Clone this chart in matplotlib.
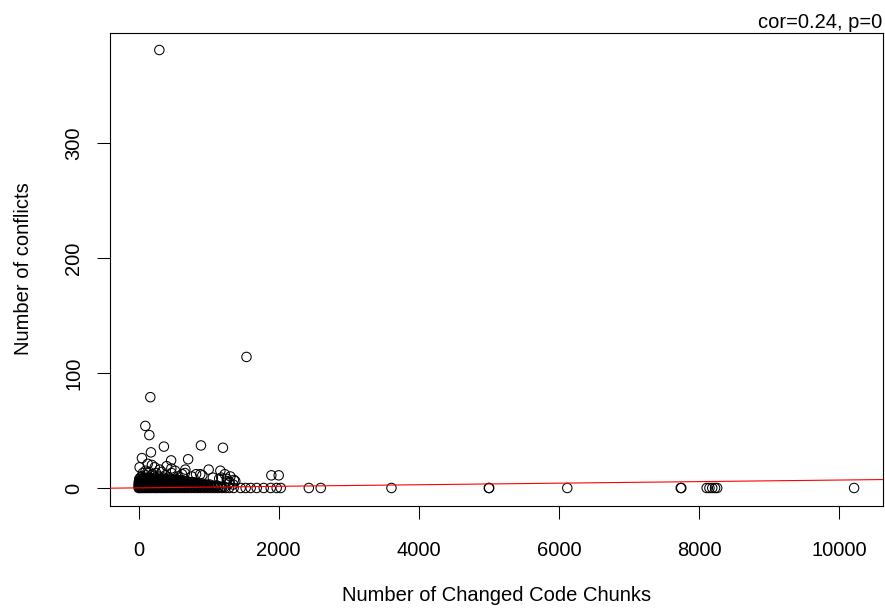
import numpy as np
import matplotlib
matplotlib.use('Agg')
import matplotlib.pyplot as plt

plt.rcParams['font.family'] = ['Liberation Sans', 'DejaVu Sans']

# changed code chunks per merge, grouped by number of conflicts (dense part near the origin)
chunks_c0 = [0, 15, 40, 70, 95, 130, 160, 190, 230, 260, 300, 335, 370, 410, 450, 490, 530, 575,
             620, 660, 705, 750, 800, 845, 890, 940, 990, 1040, 1090, 1140, 1190, 1240, 1290,
             1357, 1457, 1528, 1600, 1686, 1786, 1886, 1971, 2029,
             2430, 2600, 3610, 5000, 5005, 6120, 7740, 7748, 8110, 8150, 8190, 8230, 8260, 10215]
chunks_c1 = [5, 30, 60, 90, 120, 155, 185, 220, 255, 290, 330, 365, 405, 445, 480, 525, 565, 610,
             655, 700, 745, 790, 840, 885, 935, 985, 1035, 1085, 1135, 1180, 1225]
chunks_c2 = [0, 25, 55, 85, 115, 150, 180, 215, 250, 285, 325, 360, 400, 440, 480, 520, 560, 605,
             650, 695, 740, 790, 835, 880, 930, 980, 1030, 1080, 1120]
chunks_c3 = [10, 35, 65, 100, 135, 170, 205, 240, 280, 320, 355, 395, 435, 475, 515, 560, 600,
             645, 690, 735, 780, 830, 875, 925, 970, 1015, 1350]
chunks_c4 = [0, 30, 60, 95, 130, 165, 200, 240, 280, 315, 355, 395, 440, 480, 520, 565, 610, 655,
             700, 750, 800, 850, 905, 1290]
chunks_c5 = [15, 45, 80, 115, 150, 190, 225, 265, 305, 345, 385, 430, 470, 515, 560, 605, 650,
             700, 745, 790, 1300]
chunks_c6 = [5, 40, 75, 110, 150, 185, 225, 265, 310, 350, 395, 440, 485, 530, 580, 630, 690,
             1260, 1380]
chunks_c7 = [20, 55, 95, 135, 175, 220, 260, 305, 350, 400, 450, 500, 560, 620, 1360]
chunks_c8 = [10, 50, 90, 135, 180, 225, 275, 330, 385, 440, 520, 1150, 1260]
chunks_c9 = [30, 75, 120, 170, 230, 290, 360, 430, 1060, 1180]

# sparser points above the dense block and the outliers
other_chunks = [40, 110, 200, 290, 380, 560, 760, 910, 1310, 1895, 2000, 60, 150, 250, 330, 470,
                620, 660, 820, 880, 1230, 100, 300, 14, 190, 467, 667, 1000, 1167,
                230, 520, 130, 400,
                47, 464, 707, 176, 361, 890, 1204, 153, 96, 167, 1540, 296]
other_conflicts = [10, 11, 12, 10, 11, 10, 10, 11, 10, 11, 11, 13, 14, 13, 14, 13,
                   12, 13, 12, 12, 12, 15, 16, 18, 20, 17, 16, 16, 15,
                   18, 15, 21, 19,
                   26, 24, 25, 31, 36, 37, 35, 46, 54, 79, 114, 381]

# linear fit drawn in red
fit_intercept = 0.1
fit_slope = 0.00068

x_ticks = [0, 2000, 4000, 6000, 8000, 10000]
y_ticks = [0, 100, 200, 300]

groups = [chunks_c0, chunks_c1, chunks_c2, chunks_c3, chunks_c4,
          chunks_c5, chunks_c6, chunks_c7, chunks_c8, chunks_c9]
x = np.concatenate([np.array(g, dtype=float) for g in groups] + [np.array(other_chunks, dtype=float)])
y = np.concatenate([np.full(len(g), i, dtype=float) for i, g in enumerate(groups)]
                   + [np.array(other_conflicts, dtype=float)])

fig = plt.figure(figsize=(8.85, 6.10), dpi=100)
ax = fig.add_axes([110 / 885, (610 - 505.5) / 610, (882.7 - 110) / 885, (505.5 - 32.5) / 610])

ax.scatter(x, y, s=46, facecolors='none', edgecolors='black', linewidths=0.75, zorder=2)
ax.axline((0, fit_intercept), slope=fit_slope, color='red', lw=0.8, zorder=3)

# R-style 4% padding
xr = x.max() - x.min()
yr = y.max() - y.min()
ax.set_xlim(x.min() - 0.04 * xr, x.max() + 0.04 * xr)
ax.set_ylim(y.min() - 0.04 * yr, y.max() + 0.04 * yr)

ax.set_xticks(x_ticks)
ax.set_yticks(y_ticks)
ax.tick_params(direction='out', length=9.4, width=0.75, colors='black', labelsize=14.5)
ax.tick_params(axis='x', pad=16)
ax.tick_params(axis='y', pad=10)
for lab in ax.get_yticklabels():
    lab.set_rotation(90)
    lab.set_va('center')

for sp in ax.spines.values():
    sp.set_linewidth(0.8)
    sp.set_color('black')

ax.set_xlabel('Number of Changed Code Chunks', fontsize=14.5, labelpad=19)
ax.set_ylabel('Number of conflicts', fontsize=14.5, labelpad=22)
ax.set_title('cor=0.24, p=0', loc='right', fontsize=14.5, pad=2)

fig.savefig('out.png', dpi=100)
